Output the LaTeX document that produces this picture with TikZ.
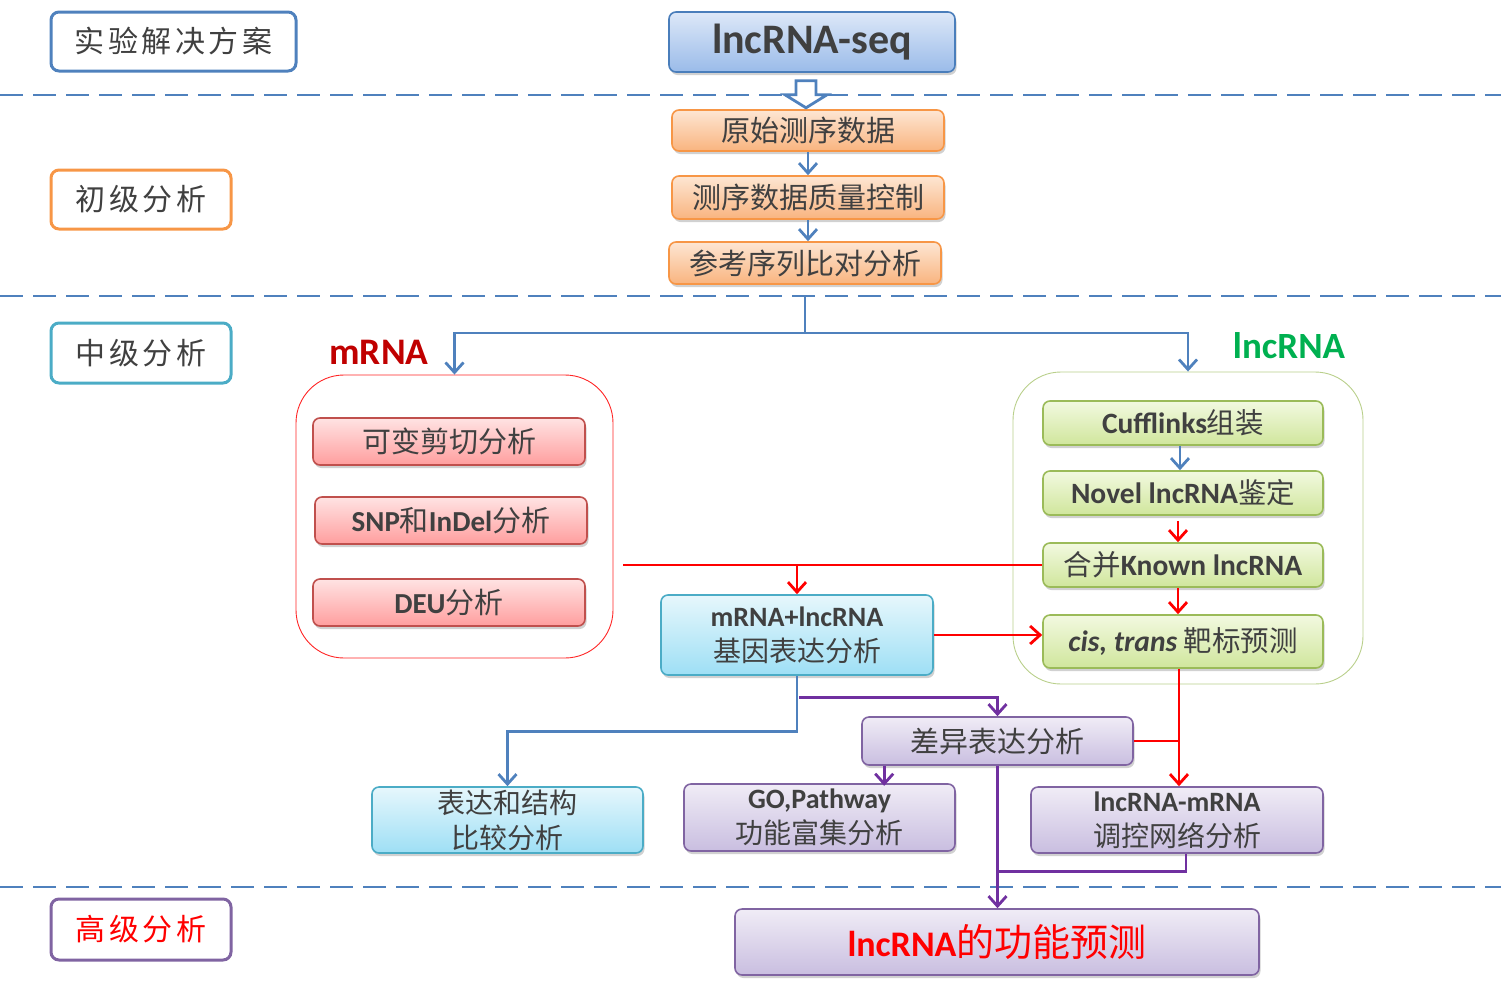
\documentclass[tikz,border=0pt]{standalone}
\usepackage{fontspec}
\setmainfont{Carlito}[BoldFont=Carlito Bold, ItalicFont=Carlito Italic, BoldItalicFont=Carlito Bold Italic]
\newfontfamily\cjk{Noto Sans CJK SC}
\newfontfamily\cjkw{Noto Sans CJK SC}[LetterSpace=12]
\usetikzlibrary{arrows.meta,shadows,calc}
\definecolor{txt}{HTML}{404040}
\definecolor{lblue}{HTML}{4F81BD}
\definecolor{dblue}{HTML}{4A7EBB}
\definecolor{lorange}{HTML}{F79646}
\definecolor{lteal}{HTML}{4BACC6}
\definecolor{lpurple}{HTML}{8064A2}
\definecolor{lred}{HTML}{C0504D}
\definecolor{lgreen}{HTML}{9BBB59}
\definecolor{apurple}{HTML}{7030A0}
\definecolor{ared}{HTML}{FF0000}
\definecolor{mred}{HTML}{C00000}
\definecolor{mgreen}{HTML}{00B050}
\definecolor{seqtop}{HTML}{DDE8F8}
\definecolor{seqbot}{HTML}{9ABBE9}
\definecolor{ortop}{HTML}{FDE6D3}
\definecolor{orbot}{HTML}{F9B47F}
\definecolor{grtop}{HTML}{F2F9E0}
\definecolor{grbot}{HTML}{D0E69C}
\definecolor{pktop}{HTML}{FFE3E3}
\definecolor{pkbot}{HTML}{FF9E9E}
\definecolor{cytop}{HTML}{E6F7FC}
\definecolor{cybot}{HTML}{9EDFF5}
\definecolor{pptop}{HTML}{F0ECF6}
\definecolor{ppbot}{HTML}{C9BEE0}
\newcommand\en[1]{{\rmfamily\bfseries #1}}
\newcommand\eng[1]{{\fontsize{29.5pt}{34pt}\rmfamily\bfseries #1}}
\newcommand\enit[1]{{\fontsize{29.5pt}{34pt}\rmfamily\bfseries\itshape #1}}
\begin{document}
\begin{tikzpicture}[x=1pt,y=-1pt,
  lab/.style={rounded corners=8pt, line width=3pt, text=txt, inner sep=0pt,
    font=\fontsize{30pt}{34pt}\cjkw},
  box/.style={rounded corners=7pt, line width=1.6pt, text=txt, inner sep=0pt, align=center,
    drop shadow={shadow xshift=1.5pt, shadow yshift=-3pt, opacity=0.3, fill=black!60}},
  obox/.style={box, draw=lorange, top color=ortop, bottom color=orbot,
    minimum width=272pt, font=\fontsize{29pt}{34pt}\cjk},
  pbox/.style={box, draw=lred, top color=pktop, bottom color=pkbot,
    minimum width=272pt, minimum height=47pt, font=\fontsize{29pt}{34pt}\cjk},
  gbox/.style={box, draw=lgreen, top color=grtop, bottom color=grbot,
    minimum width=280pt, font=\fontsize{28.5pt}{34pt}\cjk},
  cbox/.style={box, draw=lteal, top color=cytop, bottom color=cybot,
    font=\fontsize{28pt}{35pt}\cjk},
  vbox/.style={box, draw=lpurple, top color=pptop, bottom color=ppbot,
    font=\fontsize{28pt}{35pt}\cjk},
  cont/.style={rounded corners=48pt, line width=0.9pt},
  dline/.style={draw=lblue, line width=2.8pt, dash pattern=on 23pt off 10pt},
  tip/.style={-{Straight Barb[length=10pt,width=18pt]}},
  bline/.style={draw=lblue, line width=2.8pt},
  rline/.style={draw=ared, line width=2.8pt},
  pline/.style={draw=apurple, line width=2.8pt},
  barrow/.style={bline, tip},
  rarrow/.style={rline, tip},
  parrow/.style={pline, tip}
]
\useasboundingbox (0,0) rectangle (1501,999);

% dashed separators
\draw[dline] (0,95) -- (1501,95);
\draw[dline] (0,296) -- (1501,296);
\draw[dline] (0,887) -- (1501,887);

% left stage labels
\node[lab, draw=lblue, minimum width=245pt, minimum height=59pt] (l1) at (173.5,41.5) {实验解决方案};
\node[lab, draw=lorange, minimum width=180pt, minimum height=59pt] (l2) at (141,199.5) {初级分析};
\node[lab, draw=lteal, minimum width=180pt, minimum height=60pt] (l3) at (141,353) {中级分析};
\node[lab, draw=lpurple, text=ared, minimum width=180pt, minimum height=61pt] (l4) at (141,929.5) {高级分析};

% top
\node[box, draw=dblue, top color=seqtop, bottom color=seqbot,
  minimum width=286pt, minimum height=60pt, font=\fontsize{42pt}{46pt}\bfseries] (seq) at (812,42) {lncRNA-seq};

\node[obox, minimum height=41pt] (o1) at (808,130.5) {原始测序数据};
\node[obox, minimum height=43pt] (o2) at (808,197.5) {测序数据质量控制};
\node[obox, minimum height=42pt] (o3) at (805,263) {参考序列比对分析};

% hollow arrow
\draw[draw=lblue, line width=2.8pt, fill=white, line join=miter]
  ($(seq.south)+(-16,8)$) -- ++(20,0) -- ++(0,14) -- ++(11,0) -- ++(-21,13) -- ++(-21,-13) -- ++(11,0) -- cycle;

\draw[barrow] (o1.south) -- (o2.north);
\draw[barrow] (o2.south) -- (o2.south |- o3.north);

% containers
\node[cont, draw=ared!85, minimum width=317pt, minimum height=283pt] (mcont) at (454.5,516.5) {};
\node[cont, draw=lgreen!70, minimum width=350pt, minimum height=312pt] (lcont) at (1188,528) {};
\node[font=\fontsize{37.5pt}{38pt}\bfseries, text=mred] (mlab) at (379,352) {mRNA};
\node[font=\fontsize{37pt}{38pt}\bfseries, text=mgreen] (llab) at (1289,346) {lncRNA};

\coordinate (split) at (805,333);
\draw[bline] ($(o3.south)+(0,11)$) -- (split);
\draw[barrow] (split) -| (mcont.north);
\draw[barrow] (split) -| (lcont.north);

% mRNA boxes
\node[pbox] (p1) at (449,441.5) {可变剪切分析};
\node[pbox] (p2) at (451,520.5) {\en{SNP}和\en{InDel}分析};
\node[pbox] (p3) at (449,602.5) {\en{DEU}分析};

% lncRNA boxes
\node[gbox, minimum height=44pt] (g1) at (1183,423) {\eng{Cufflinks}组装};
\node[gbox, minimum height=44pt] (g2) at (1183,493) {\eng{Novel lncRNA}鉴定};
\node[gbox, minimum height=44pt] (g3) at (1183,565) {合并\eng{Known lncRNA}};
\node[gbox, minimum height=53pt] (g4) at (1183,641.5) {\enit{cis, trans} 靶标预测};

\draw[barrow] ($(g1.south)+(-3,0)$) -- ($(g2.north)+(-3,0)$);
\draw[rarrow] ($(g2.south)+(-5,5)$) -- ($(g3.north)+(-5,0)$);
\draw[rarrow] ($(g3.south)+(-5,0)$) -- ($(g4.north)+(-5,0)$);

% expression box
\node[cbox, minimum width=272pt, minimum height=80pt] (ml) at (797,635) {\en{mRNA+lncRNA}\\基因表达分析};

\coordinate (rl) at (623,565);
\draw[rline] (g3.west) -- (rl);
\draw[rarrow] (ml.north |- g3.west) -- (ml.north);
\draw[rarrow] (ml.east) -- (ml.east -| g4.west);

% lower boxes
\node[vbox, minimum width=271pt, minimum height=48pt, font=\fontsize{29pt}{34pt}\cjk] (diff) at (997.5,741) {差异表达分析};
\node[cbox, minimum width=271pt, minimum height=66pt] (cmp) at (507.5,820) {表达和结构\\比较分析};
\node[vbox, minimum width=271pt, minimum height=67pt] (go) at (819.5,817.5) {\en{GO,Pathway}\\功能富集分析};
\node[vbox, minimum width=292pt, minimum height=66pt] (net) at (1177,820) {\en{lncRNA-mRNA}\\调控网络分析};
\node[vbox, minimum width=524pt, minimum height=66pt, text=ared, font=\fontsize{38pt}{40pt}\cjk] (fin) at (997,942) {{\fontsize{36pt}{40pt}\en{lncRNA}}的功能预测};

\coordinate (gx) at ($(g4.south)+(-4,0)$);
\draw[rarrow] (gx) -- (gx |- net.north);
\draw[rline] (diff.east) -- (diff.east -| gx);

\draw[barrow] (ml.south) -- ++(0,56) -| (cmp.north);
\draw[parrow] ($(ml.south)+(2,22)$) -| (diff.north);
\draw[parrow] ($(diff.south west)+(23,0)$) -- ($(diff.south west)+(23,20)$);
\draw[parrow] (diff.south) -- (diff.south |- fin.north);
\draw[pline] ($(net.south)+(9,0)$) |- ($(diff.south)+(0,106)$);
\end{tikzpicture}
\end{document}
